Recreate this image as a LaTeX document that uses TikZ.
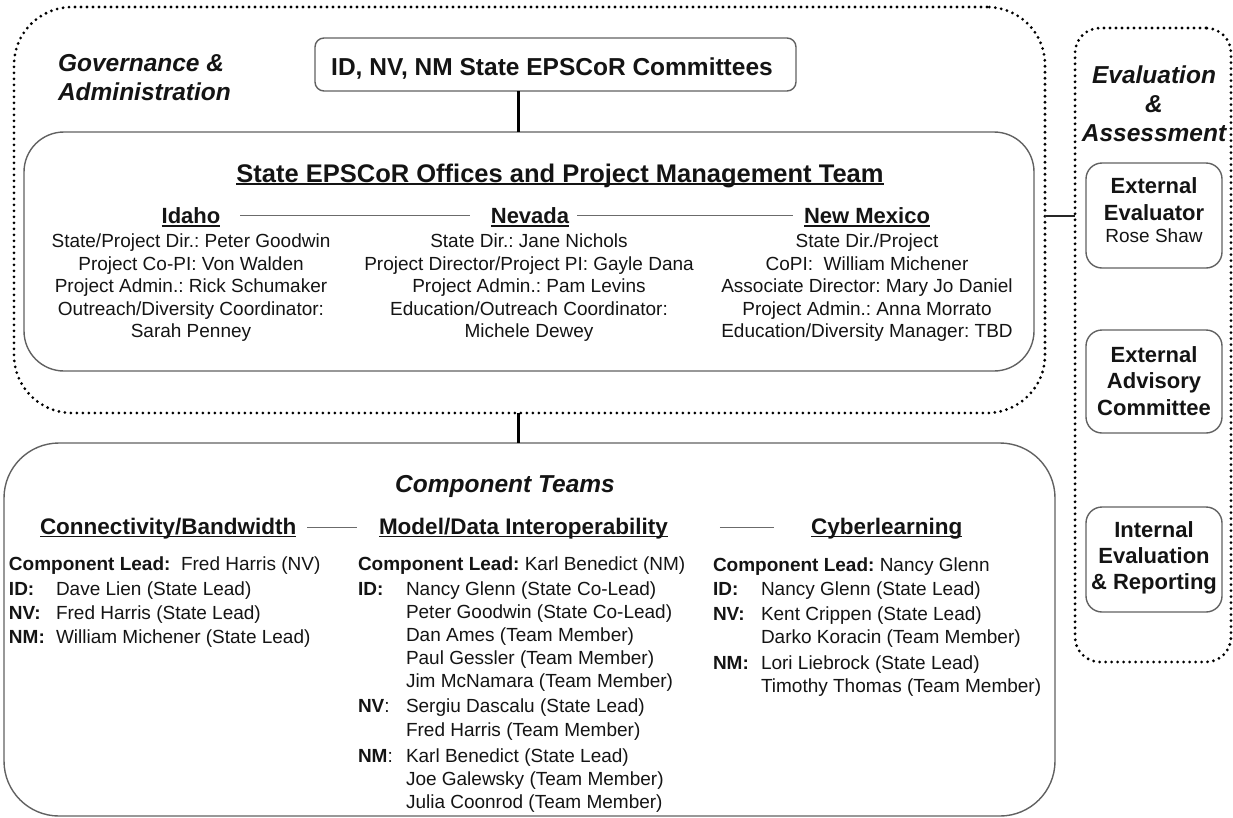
\documentclass[tikz,border=0pt]{standalone}
\usepackage{fontspec}
\setmainfont{Liberation Sans}
\frenchspacing
\definecolor{txt}{gray}{0.08}
\definecolor{boxcol}{gray}{0.38}
\definecolor{sepcol}{gray}{0.42}
\newsavebox\ulbox
\newcommand\myul[2][1.4pt]{\sbox\ulbox{#2}\rlap{\rule[-3pt]{\wd\ulbox}{#1}}\usebox\ulbox}
\tikzset{
  every node/.style={inner sep=0pt, outer sep=0pt, text=txt},
  dotbox/.style={draw=black, line width=3.1pt, dash pattern=on 0pt off 6pt, line cap=round},
  solidbox/.style={draw=boxcol, line width=1.4pt},
  body/.style={font=\fontsize{19}{22}\selectfont, anchor=base},
  bodyl/.style={body, anchor=base west},
  lbl/.style={font=\fontsize{19}{22}\selectfont\bfseries, anchor=base west},
  sechead/.style={font=\fontsize{24.5}{29}\selectfont\bfseries\itshape, anchor=base},
  hd/.style={font=\fontsize{22}{26}\selectfont\bfseries, anchor=base},
  evhd/.style={font=\fontsize{22}{26}\selectfont\bfseries, anchor=base},
  thick conn/.style={draw=black, line width=3pt},
  sepline/.style={draw=sepcol, line width=1.8pt},
}
\begin{document}
\begin{tikzpicture}[x=1pt, y=-1pt]
\useasboundingbox (0,0) rectangle (1233,817);
% ---------- boxes ----------
\node[dotbox, rounded corners=58pt, minimum width=1031pt, minimum height=406pt] (gov) at (529.5,210) {};
\node[solidbox, rounded corners=9pt, minimum width=481pt, minimum height=53pt] (comm) at (555.5,64.5) {};
\node[solidbox, rounded corners=40pt, minimum width=1010pt, minimum height=239pt] (pm) at (529,251.5) {};
\node[solidbox, rounded corners=55pt, minimum width=1051pt, minimum height=373pt] (comp) at (529.5,629.5) {};
\node[dotbox, rounded corners=25pt, minimum width=156pt, minimum height=634pt] (eval) at (1153,345) {};
\node[solidbox, rounded corners=16pt, minimum width=136pt, minimum height=105pt] (ee) at (1154,215.5) {};
\node[solidbox, rounded corners=16pt, minimum width=136pt, minimum height=103pt] (eac) at (1154,381.5) {};
\node[solidbox, rounded corners=16pt, minimum width=136pt, minimum height=105pt] (ier) at (1154,559.5) {};
% ---------- connectors ----------
\coordinate (spine) at (518.6,0);
\coordinate (evy) at (0,216);
\draw[thick conn] (comm.south -| spine) -- (pm.north -| spine);
\draw[thick conn] (gov.south -| spine) -- (comp.north -| spine);
\draw[draw=black!85, line width=2.6pt] (gov.east |- evy) -- (eval.west |- evy);
% ---------- governance ----------
\node[sechead, anchor=base west] (g1) at (58,71) {Governance \&};
\node[sechead, anchor=base west] (g2) at (58,100) {Administration};
\node[font=\fontsize{24.5}{29}\selectfont\bfseries, anchor=base] (commt) at (552,75) {ID, NV, NM State EPSCoR Committees};
\node[font=\fontsize{25.5}{30}\selectfont\bfseries, anchor=base] (pmt) at (560,182) {\myul[1.7pt]{State EPSCoR Offices and Project Management Team}};
% state headings
\node[hd] (hid) at (191,223.5) {\myul{Idaho}};
\node[hd] (hnv) at (530,223.5) {\myul{Nevada}};
\node[hd] (hnm) at (867,223.5) {\myul{New Mexico}};
\coordinate (hl) at (0,215.5);
\draw[sepline] ([xshift=20pt]hid.east |- hl) -- ([xshift=-21pt]hnv.west |- hl);
\draw[sepline] ([xshift=8pt]hnv.east |- hl) -- ([xshift=-11pt]hnm.west |- hl);
% Idaho
\node[body] (id1) at (191,247.5) {State/Project Dir.: Peter Goodwin};
\node[body] (id2) at (191,270) {Project Co-PI: Von Walden};
\node[body] (id3) at (191,292.5) {Project Admin.: Rick Schumaker};
\node[body] (id4) at (191,315) {Outreach/Diversity Coordinator:};
\node[body] (id5) at (191,337.5) {Sarah Penney};
% Nevada
\node[body] (nv1) at (529,247.5) {State Dir.: Jane Nichols};
\node[body] (nv2) at (529,270) {Project Director/Project PI: Gayle Dana};
\node[body] (nv3) at (529,292.5) {Project Admin.: Pam Levins};
\node[body] (nv4) at (529,315) {Education/Outreach Coordinator:};
\node[body] (nv5) at (529,337.5) {Michele Dewey};
% New Mexico
\node[body] (nm1) at (867,247.5) {State Dir./Project};
\node[body] (nm2) at (867,270) {CoPI:\ \ William Michener};
\node[body] (nm3) at (867,292.5) {Associate Director: Mary Jo Daniel};
\node[body] (nm4) at (867,315) {Project Admin.: Anna Morrato};
\node[body] (nm5) at (867,337.5) {Education/Diversity Manager: TBD};
% ---------- evaluation ----------
\node[sechead] (ev1) at (1154,83) {Evaluation};
\node[sechead] (ev2) at (1154,112) {\&};
\node[sechead] (ev3) at (1154,141) {Assessment};
\node[evhd] (ee1) at (ee.center |- 0,193) {External};
\node[evhd] (ee2) at (ee.center |- 0,220) {Evaluator};
\node[body] (ee3) at (ee.center |- 0,242) {Rose Shaw};
\node[evhd] (eac1) at (eac.center |- 0,362) {External};
\node[evhd] (eac2) at (eac.center |- 0,388.5) {Advisory};
\node[evhd] (eac3) at (eac.center |- 0,415) {Committee};
\node[evhd] (ier1) at (ier.center |- 0,537) {Internal};
\node[evhd] (ier2) at (ier.center |- 0,563) {Evaluation};
\node[evhd] (ier3) at (ier.center |- 0,589) {\& Reporting};
% ---------- component teams ----------
\node[sechead] (ct) at (505,492) {Component Teams};
\node[hd, font=\fontsize{22.5}{26}\selectfont\bfseries, anchor=base west] (hcb) at (40,534) {\myul{Connectivity/Bandwidth}};
\node[hd, font=\fontsize{22.5}{26}\selectfont\bfseries, anchor=base west] (hmd) at (379,534) {\myul{Model/Data Interoperability}};
\node[hd, font=\fontsize{22.5}{26}\selectfont\bfseries, anchor=base west] (hcy) at (811,534) {\myul{Cyberlearning}};
\coordinate (cl) at (0,527.5);
\draw[sepline] ([xshift=11pt]hcb.east |- cl) -- ([xshift=-22pt]hmd.west |- cl);
\draw[sepline] ([xshift=52pt]hmd.east |- cl) -- ([xshift=-37pt]hcy.west |- cl);
% Connectivity
\node[bodyl] (cb0) at (9,570.5) {\textbf{Component Lead:}\ \ Fred Harris (NV)};
\node[lbl] (cbl1) at (9,595) {ID:};
\node[bodyl] (cb1) at (56,595) {Dave Lien (State Lead)};
\node[lbl] (cbl2) at (9,619) {NV:};
\node[bodyl] (cb2) at (56,619) {Fred Harris (State Lead)};
\node[lbl] (cbl3) at (9,643) {NM:};
\node[bodyl] (cb3) at (56,643) {William Michener (State Lead)};
% Model/Data
\node[bodyl] (md0) at (358,570.5) {\textbf{Component Lead:} Karl Benedict (NM)};
\node[lbl] (mdl1) at (358,595.5) {ID:};
\node[bodyl] (md1) at (406,595.5) {Nancy Glenn (State Co-Lead)};
\node[bodyl] (md2) at (406,618.5) {Peter Goodwin (State Co-Lead)};
\node[bodyl] (md3) at (406,641.5) {Dan Ames (Team Member)};
\node[bodyl] (md4) at (406,664.5) {Paul Gessler (Team Member)};
\node[bodyl] (md5) at (406,687.5) {Jim McNamara (Team Member)};
\node[bodyl] (mdl2) at (358,712.5) {\textbf{NV}:};
\node[bodyl] (md6) at (406,712.5) {Sergiu Dascalu (State Lead)};
\node[bodyl] (md7) at (406,736) {Fred Harris (Team Member)};
\node[bodyl] (mdl3) at (358,762) {\textbf{NM}:};
\node[bodyl] (md8) at (406,762) {Karl Benedict (State Lead)};
\node[bodyl] (md9) at (406,785) {Joe Galewsky (Team Member)};
\node[bodyl] (md10) at (406,808) {Julia Coonrod (Team Member)};
% Cyberlearning
\node[bodyl] (cy0) at (713,571) {\textbf{Component Lead:} Nancy Glenn};
\node[lbl] (cyl1) at (713,595) {ID:};
\node[bodyl] (cy1) at (761,595) {Nancy Glenn (State Lead)};
\node[lbl] (cyl2) at (713,620) {NV:};
\node[bodyl] (cy2) at (761,620) {Kent Crippen (State Lead)};
\node[bodyl] (cy3) at (761,643) {Darko Koracin (Team Member)};
\node[lbl] (cyl3) at (713,669) {NM:};
\node[bodyl] (cy4) at (761,669) {Lori Liebrock (State Lead)};
\node[bodyl] (cy5) at (761,692) {Timothy Thomas (Team Member)};
\end{tikzpicture}
\end{document}
